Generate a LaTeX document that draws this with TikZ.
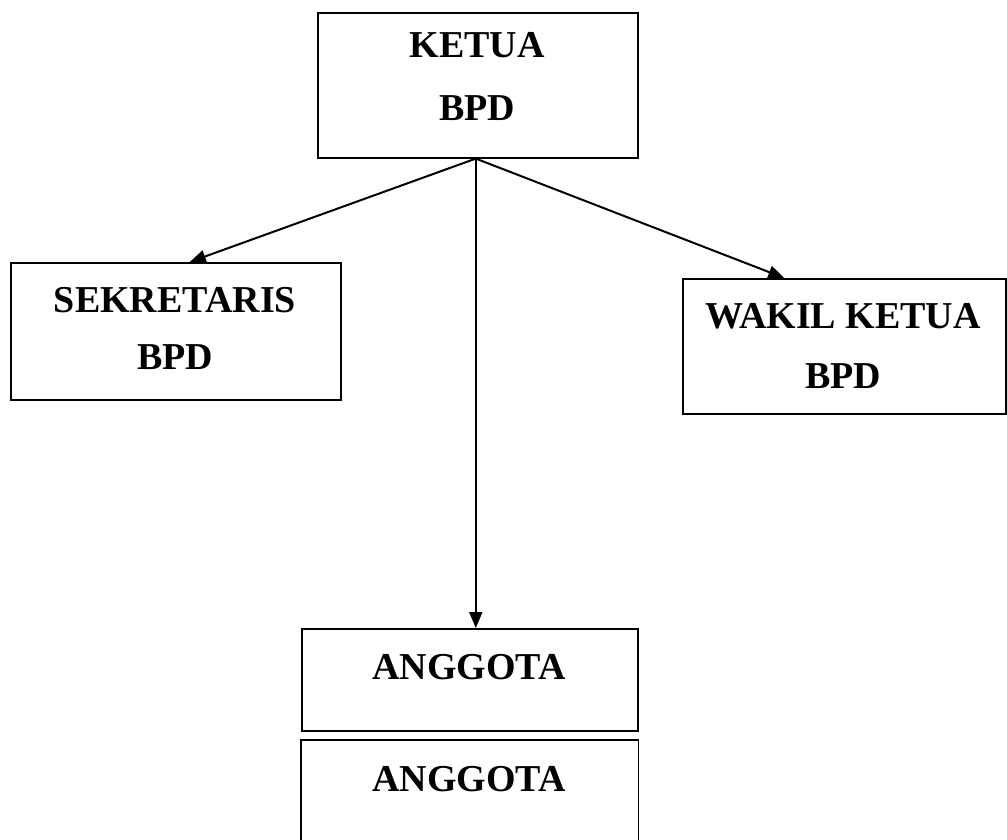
\documentclass[tikz,border=0pt]{standalone}
\usepackage{fontspec}
\setmainfont{Liberation Serif}
\usetikzlibrary{arrows.meta}

\begin{document}
\begin{tikzpicture}[x=1pt,y=-1pt,
  box/.style={draw,line width=1.6pt,inner sep=0pt,anchor=north west},
  lbl/.style={font=\fontsize{38}{44}\selectfont\bfseries},
  link/.style={line width=2pt,-{Triangle[length=16pt,width=13pt]}}]

% Frame
\useasboundingbox (0,0) rectangle (1007,840);

% Ketua
\node[box,minimum width=320pt,minimum height=145pt] (ketua) at (317,12) {};
\node[lbl] (ketuaA) at (477,45) {KETUA};
\node[lbl] (ketuaB) at (477,108) {BPD};

% Sekretaris
\node[box,minimum width=330pt,minimum height=137pt] (sekretaris) at (10,262) {};
\node[lbl] (sekA) at (175,300) {SEKRETARIS};
\node[lbl] (sekB) at (175,357) {BPD};

% Wakil ketua
\node[box,minimum width=323pt,minimum height=135pt] (wakil) at (682,278) {};
\node[lbl] (wakA) at (843,316) {WAKIL KETUA};
\node[lbl] (wakB) at (843,376) {BPD};

% Anggota
\node[box,minimum width=336pt,minimum height=102pt] (anggotaA) at (301,628) {};
\node[lbl] (angA) at (469,667) {ANGGOTA};
\node[box,draw=none,minimum width=336pt,minimum height=100pt] (anggotaB) at (301,740) {};
\draw[line width=1.6pt] (anggotaB.south west) -- (anggotaB.north west)
  -- (anggotaB.north east) -- (anggotaB.south east);
\node[lbl] (angB) at (469,779) {ANGGOTA};

% Arrows
\draw[link] ([xshift=-2pt]ketua.south) -- ([xshift=14pt]sekretaris.north);
\draw[link] ([xshift=-2pt]ketua.south) -- ([xshift=6pt]anggotaA.north);
\draw[link] ([xshift=-2pt]ketua.south) -- ([xshift=-60pt]wakil.north);

\end{tikzpicture}
\end{document}
